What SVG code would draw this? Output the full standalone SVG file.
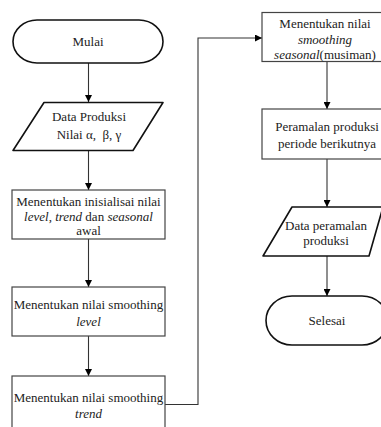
<svg xmlns="http://www.w3.org/2000/svg" width="381" height="427" viewBox="0 0 381 427">
<defs>
<marker id="ah" viewBox="0 0 8 8" refX="8" refY="4" markerWidth="7" markerHeight="7" markerUnits="userSpaceOnUse" orient="auto">
<path d="M0,0 L8,4 L0,8 Z" fill="#000"/>
</marker>
<style>
.box{fill:#fff;stroke:#444;stroke-width:1.2}
.term{fill:#fff;stroke:#111;stroke-width:1.6;stroke-linejoin:round}
.t{font-family:'Liberation Serif',Tinos,'Times New Roman','DejaVu Serif',serif;font-size:13px;fill:#222;text-anchor:middle}
.i{font-style:italic}
.c{fill:none;stroke:#333;stroke-width:1.1}
</style>
</defs>
<rect width="381" height="427" fill="#fff"/>
<g id="connectors">
<line class="c" x1="88.5" y1="63" x2="88.5" y2="102" marker-end="url(#ah)"/>
<line class="c" x1="88.5" y1="151" x2="88.5" y2="190" marker-end="url(#ah)"/>
<line class="c" x1="88.5" y1="239" x2="88.5" y2="287" marker-end="url(#ah)"/>
<line class="c" x1="88.5" y1="336" x2="88.5" y2="376" marker-end="url(#ah)"/>
<polyline class="c" points="165,404.5 198,404.5 198,38 262,38" marker-end="url(#ah)"/>
<line class="c" x1="327" y1="62" x2="327" y2="109" marker-end="url(#ah)"/>
<line class="c" x1="327" y1="159" x2="327" y2="207" marker-end="url(#ah)"/>
<line class="c" x1="327" y1="256" x2="327" y2="296" marker-end="url(#ah)"/>
</g>
<g id="mulai">
<rect class="term" x="13" y="20" width="150" height="43" rx="24" ry="21.5"/>
<text class="t" x="88" y="46">Mulai</text>
</g>
<g id="data-produksi">
<path class="term" d="M44,102.5 L163,102.5 L133,150.5 L13,150.5 Z"/>
<text class="t" x="89" y="121">Data Produksi</text>
<text class="t" x="89" y="139" xml:space="preserve">Nilai α,  β, γ</text>
</g>
<g id="inisialisasi">
<rect class="box" x="12" y="190" width="153" height="49"/>
<text class="t" x="88.5" y="206">Menentukan inisialisai nilai</text>
<text class="t" x="88.5" y="221"><tspan class="i">level</tspan>, <tspan class="i">trend</tspan> dan <tspan class="i">seasonal</tspan></text>
<text class="t" x="88.5" y="234.5">awal</text>
</g>
<g id="smoothing-level">
<rect class="box" x="12" y="287" width="153" height="49"/>
<text class="t" x="88.5" y="309">Menentukan nilai smoothing</text>
<text class="t i" x="88.5" y="325.5">level</text>
</g>
<g id="smoothing-trend">
<rect class="box" x="12" y="376" width="153" height="60"/>
<text class="t" x="88.5" y="402">Menentukan nilai smoothing</text>
<text class="t i" x="88.5" y="418">trend</text>
</g>
<g id="smoothing-seasonal">
<rect class="box" x="262" y="12.5" width="130" height="49"/>
<text class="t" x="325" y="27.5">Menentukan nilai</text>
<text class="t i" x="325" y="43.5">smoothing</text>
<text class="t" x="325" y="59"><tspan class="i">seasonal</tspan>(musiman)</text>
</g>
<g id="peramalan">
<rect class="box" x="262" y="109" width="130" height="50"/>
<text class="t" x="327" y="130.5">Peramalan produksi</text>
<text class="t" x="327" y="148">periode berikutnya</text>
</g>
<g id="data-peramalan">
<path class="term" d="M292,207 L383,207 L369,256 L263,256 Z"/>
<text class="t" x="326" y="229.5">Data peramalan</text>
<text class="t" x="326" y="245">produksi</text>
</g>
<g id="selesai">
<rect class="term" x="266" y="296" width="122" height="49" rx="26" ry="24.5"/>
<text class="t" x="327" y="324.5">Selesai</text>
</g>
</svg>
